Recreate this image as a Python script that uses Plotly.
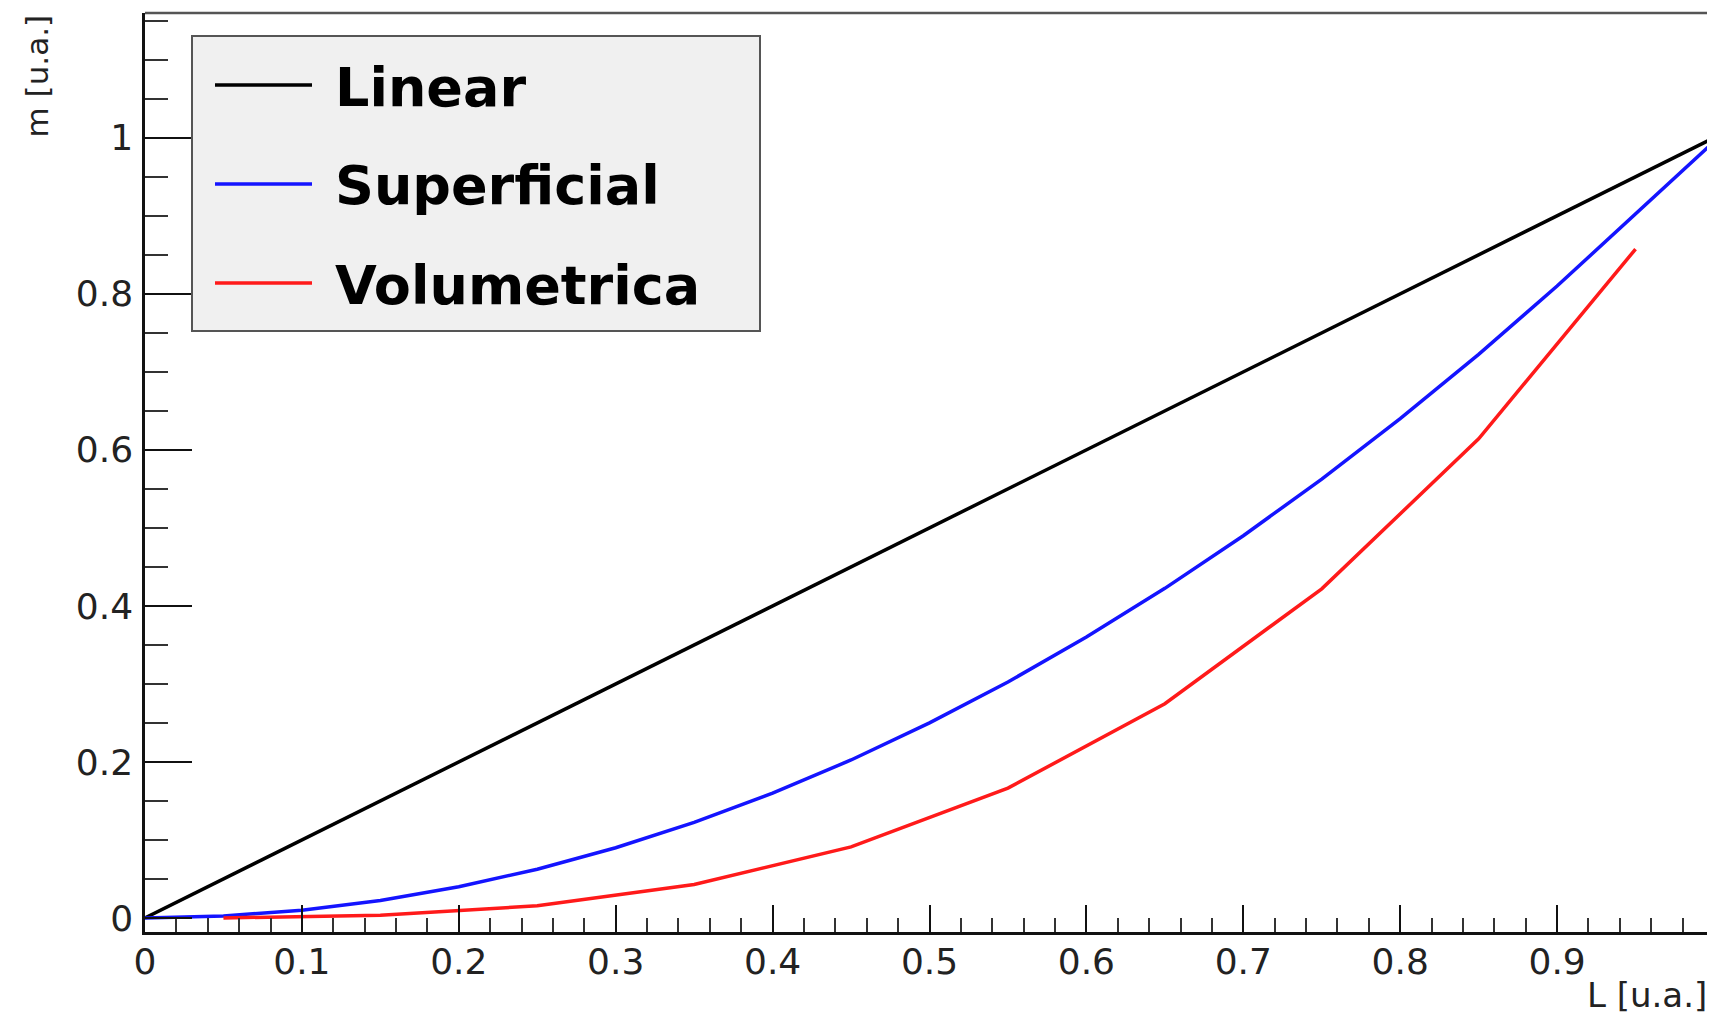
import plotly.graph_objects as go

# ---- data ----
series_names = ["Linear", "Superficial", "Volumetrica"]
series_colors = ["#000000", "#1414ff", "#ff1a1a"]

L_linear = [0.0, 0.1, 0.2, 0.3, 0.4, 0.5, 0.6, 0.7, 0.8, 0.9, 1.0]
m_linear = [0.0, 0.1, 0.2, 0.3, 0.4, 0.5, 0.6, 0.7, 0.8, 0.9, 1.0]

L_superficial = [0.0, 0.05, 0.1, 0.15, 0.2, 0.25, 0.3, 0.35, 0.4, 0.45, 0.5,
                 0.55, 0.6, 0.65, 0.7, 0.75, 0.8, 0.85, 0.9, 0.95, 1.0]
m_superficial = [0.0, 0.0025, 0.01, 0.0225, 0.04, 0.0625, 0.09, 0.1225, 0.16, 0.2025, 0.25,
                 0.3025, 0.36, 0.4225, 0.49, 0.5625, 0.64, 0.7225, 0.81, 0.9025, 0.995]

L_volumetrica = [0.05, 0.15, 0.25, 0.35, 0.45, 0.55, 0.65, 0.75, 0.85, 0.95]
m_volumetrica = [0.0001, 0.0034, 0.0156, 0.0429, 0.0911, 0.1664, 0.2746, 0.4219, 0.6141, 0.8574]

x_title = "L [u.a.]"
y_title = "m [u.a.]"

# ---- layout geometry ----
# The page body has an 8px default margin, so the figure is drawn at (8, 8)
# inside the 1715x1014 window. Positions below are given in window pixels.
OFF = 8
W, H = 1715 - OFF, 1014 - OFF
SL, SR, ST, SB = 145, 1714, 13, 932  # plot-area edges in window pixels
ML, MR, MT, MB = SL - OFF, W - (SR - OFF), ST - OFF, H - (SB - OFF)


def px(xs):
    return (xs - SL) / (SR - SL)


def py(ys):
    return (SB - ys) / (SB - ST)


fig = go.Figure()
xs = [L_linear, L_superficial, L_volumetrica]
ys = [m_linear, m_superficial, m_volumetrica]
for name, color, x, y in zip(series_names, series_colors, xs, ys):
    fig.add_trace(go.Scatter(x=x, y=y, mode="lines", name=name,
                             line=dict(color=color, width=3.5), showlegend=False))

tickfont = dict(family="DejaVu Sans", size=36, color="#222222")

fig.update_layout(
    width=W, height=H,
    margin=dict(l=ML, r=MR, t=MT, b=MB, pad=0),
    paper_bgcolor="white", plot_bgcolor="white",
    xaxis=dict(range=[0, 1], dtick=0.1, tick0=0, ticks="inside", ticklen=27,
               tickwidth=2, tickcolor="#111111", showgrid=False, zeroline=False,
               showline=True, linecolor="#111111", linewidth=2.5,
               tickfont=tickfont, ticklabelstandoff=-4,
               minor=dict(dtick=0.02, tick0=0, ticks="inside", ticklen=14,
                          tickwidth=2, tickcolor="#333333", showgrid=False)),
    yaxis=dict(range=[-0.018, 1.16], dtick=0.2, tick0=0, ticks="inside", ticklen=47,
               tickwidth=2, tickcolor="#111111", showgrid=False, zeroline=False,
               showline=True, linecolor="#111111", linewidth=2.5,
               tickfont=tickfont, ticklabelstandoff=2,
               minor=dict(dtick=0.05, tick0=0, ticks="inside", ticklen=23,
                          tickwidth=2, tickcolor="#333333", showgrid=False)),
)

shapes = []
# top and right frame
shapes.append(dict(type="line", xref="paper", yref="paper", x0=0, x1=1, y0=1, y1=1,
                   line=dict(color="#555555", width=2.5), layer="above"))
shapes.append(dict(type="line", xref="paper", yref="paper", x0=1, x1=1, y0=0, y1=1,
                   line=dict(color="#d8d8d8", width=1.5), layer="above"))
# legend box
shapes.append(dict(type="rect", xref="paper", yref="paper",
                   x0=px(192), x1=px(760), y0=py(331), y1=py(36),
                   fillcolor="#f0f0f0", line=dict(color="#555555", width=2), layer="above"))
annotations = []
row_y = [85, 184, 283]
for name, color, ry in zip(series_names, series_colors, row_y):
    shapes.append(dict(type="line", xref="paper", yref="paper",
                       x0=px(215), x1=px(312), y0=py(ry), y1=py(ry),
                       line=dict(color=color, width=3.5), layer="above"))
    annotations.append(dict(text=name, xref="paper", yref="paper",
                            x=px(333), y=py(ry + 2), xanchor="left", yanchor="middle",
                            showarrow=False,
                            font=dict(family="DejaVu Sans", size=54, color="black",
                                      weight="bold")))

# axis titles
annotations.append(dict(text=x_title, xref="paper", yref="paper", x=px(1709), y=py(995),
                        xanchor="right", yanchor="middle", showarrow=False,
                        font=dict(family="DejaVu Sans", size=34, color="#222222")))
annotations.append(dict(text=y_title, xref="paper", yref="paper", x=px(36), y=py(13),
                        xanchor="center", yanchor="top", textangle=-90, showarrow=False,
                        font=dict(family="DejaVu Sans", size=31, color="#222222")))

fig.update_layout(shapes=shapes, annotations=annotations)
fig.write_html("out.html")
